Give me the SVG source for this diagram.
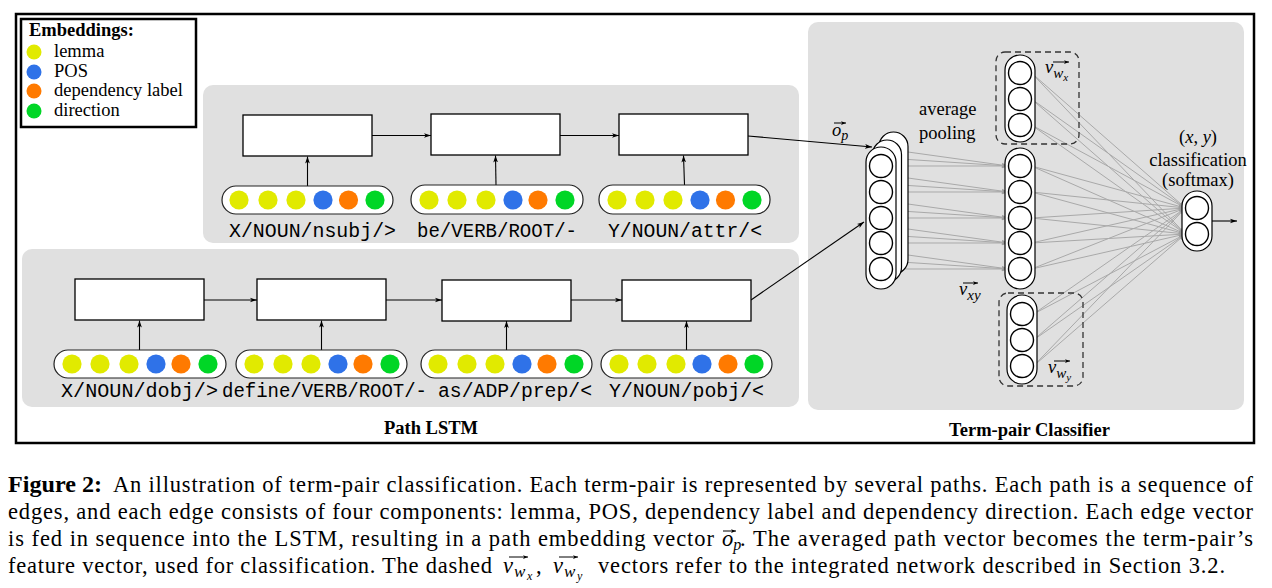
<svg xmlns="http://www.w3.org/2000/svg" width="1272" height="588" viewBox="0 0 1272 588">
<style>
.panel{fill:#e0e0e0;stroke:none}
.box{fill:#fff;stroke:#000;stroke-width:1.3}
.pill{fill:#fff;stroke:#222;stroke-width:1.2}
.vec{fill:#fff;stroke:#000;stroke-width:1.2}
.neu{fill:#fff;stroke:#000;stroke-width:1.4}
.dash{fill:none;stroke:#333;stroke-width:1.3;stroke-dasharray:6,4}
.y{fill:#e1ea00}.b{fill:#2f72e8}.o{fill:#ff7a00}.g{fill:#00d626}
.ser{font-family:"Liberation Serif","Times New Roman",serif;font-size:18.5px;fill:#000}
.bold{font-weight:bold}
.it{font-style:italic}
.mono{font-family:"Liberation Mono","Courier New",monospace;font-size:20px;fill:#000}
.cap{font-family:"Liberation Serif","Times New Roman",serif;font-size:22.5px;fill:#000}
.blk{fill:none;stroke:#000;stroke-width:1.1}
.gry{fill:none;stroke:#a9a9a9;stroke-width:1}
.acc{fill:none;stroke:#000;stroke-width:1}
</style>
<defs>
<marker id="ah" viewBox="0 0 8 6" refX="8" refY="3" markerWidth="7" markerHeight="5.5" markerUnits="userSpaceOnUse" orient="auto"><path d="M0,0.3 L8,3 L0,5.7 L2,3 z" fill="#000"/></marker>
<marker id="ahg" viewBox="0 0 8 6" refX="8" refY="3" markerWidth="7" markerHeight="5.5" markerUnits="userSpaceOnUse" orient="auto"><path d="M0,0.3 L8,3 L0,5.7 L2,3 z" fill="#9a9a9a"/></marker>
<marker id="va" viewBox="0 0 8 6" refX="8" refY="3" markerWidth="5" markerHeight="4" markerUnits="userSpaceOnUse" orient="auto"><path d="M0,0 L8,3 L0,6 L2,3 z" fill="#000"/></marker>
</defs>
<rect x="0" y="0" width="1272" height="588" fill="#fff"/>
<rect id="frame" x="16" y="14" width="1238" height="429" fill="none" stroke="#000" stroke-width="2.5"/>

<rect id="panel-top" class="panel" x="203" y="85" width="596" height="158" rx="10"/>
<rect id="panel-bottom" class="panel" x="22" y="249" width="777" height="158" rx="10"/>
<rect id="panel-classifier" class="panel" x="808" y="22" width="436" height="388" rx="10"/>

<g id="legend">
<rect x="21" y="19" width="175" height="108" fill="#fff" stroke="#000" stroke-width="2.5"/>
<text class="ser bold" x="29" y="36">Embeddings:</text>
<circle class="y" cx="34" cy="52" r="7.5"/><text class="ser" x="54" y="57">lemma</text>
<circle class="b" cx="34" cy="72" r="7.5"/><text class="ser" x="54" y="77">POS</text>
<circle class="o" cx="34" cy="91" r="7.5"/><text class="ser" x="54" y="96">dependency label</text>
<circle class="g" cx="34" cy="111" r="7.5"/><text class="ser" x="54" y="116">direction</text>
</g>

<g id="connectors">
<line class="blk" x1="307.5" y1="186" x2="307.5" y2="156.5" marker-end="url(#ah)"/>
<line class="blk" x1="496" y1="185" x2="495.5" y2="155.5" marker-end="url(#ah)"/>
<line class="blk" x1="684.5" y1="185" x2="683.5" y2="155.5" marker-end="url(#ah)"/>
<line class="blk" x1="372" y1="135.5" x2="431" y2="135.5" marker-end="url(#ah)"/>
<line class="blk" x1="560" y1="135.5" x2="619" y2="135.5" marker-end="url(#ah)"/>
<line class="blk" x1="748" y1="136" x2="872" y2="147" marker-end="url(#ah)"/>
<line class="blk" x1="139.5" y1="350" x2="139.5" y2="320.5" marker-end="url(#ah)"/>
<line class="blk" x1="321.5" y1="350" x2="321.5" y2="320.5" marker-end="url(#ah)"/>
<line class="blk" x1="506.5" y1="350" x2="506.5" y2="321" marker-end="url(#ah)"/>
<line class="blk" x1="686.5" y1="350" x2="686.5" y2="321" marker-end="url(#ah)"/>
<line class="blk" x1="204" y1="300" x2="257" y2="300" marker-end="url(#ah)"/>
<line class="blk" x1="386" y1="300" x2="442" y2="300" marker-end="url(#ah)"/>
<line class="blk" x1="571" y1="300" x2="622" y2="300" marker-end="url(#ah)"/>
<line class="blk" x1="751" y1="300" x2="864" y2="222" marker-end="url(#ah)"/>
<g marker-end="url(#ahg)">
<line class="gry" x1="892.5" y1="166" x2="1008.5" y2="166"/>
<line class="gry" x1="901" y1="159" x2="1008.5" y2="166"/>
<line class="gry" x1="908" y1="152" x2="1008.5" y2="166"/>
<line class="gry" x1="892.5" y1="192" x2="1008.5" y2="192"/>
<line class="gry" x1="901" y1="185" x2="1008.5" y2="192"/>
<line class="gry" x1="908" y1="178" x2="1008.5" y2="192"/>
<line class="gry" x1="892.5" y1="218" x2="1008.5" y2="218"/>
<line class="gry" x1="901" y1="211" x2="1008.5" y2="218"/>
<line class="gry" x1="908" y1="204" x2="1008.5" y2="218"/>
<line class="gry" x1="892.5" y1="243" x2="1008.5" y2="243"/>
<line class="gry" x1="901" y1="236" x2="1008.5" y2="243"/>
<line class="gry" x1="908" y1="229" x2="1008.5" y2="243"/>
<line class="gry" x1="892.5" y1="269" x2="1008.5" y2="269"/>
<line class="gry" x1="901" y1="262" x2="1008.5" y2="269"/>
<line class="gry" x1="908" y1="255" x2="1008.5" y2="269"/>
</g>
<g marker-end="url(#ahg)">
<line class="gry" x1="1031.5" y1="73" x2="1185.5" y2="208"/>
<line class="gry" x1="1031.5" y1="73" x2="1185.5" y2="234"/>
<line class="gry" x1="1031.5" y1="99" x2="1185.5" y2="208"/>
<line class="gry" x1="1031.5" y1="99" x2="1185.5" y2="234"/>
<line class="gry" x1="1031.5" y1="125" x2="1185.5" y2="208"/>
<line class="gry" x1="1031.5" y1="125" x2="1185.5" y2="234"/>
<line class="gry" x1="1031.5" y1="166" x2="1185.5" y2="208"/>
<line class="gry" x1="1031.5" y1="166" x2="1185.5" y2="234"/>
<line class="gry" x1="1031.5" y1="192" x2="1185.5" y2="208"/>
<line class="gry" x1="1031.5" y1="192" x2="1185.5" y2="234"/>
<line class="gry" x1="1031.5" y1="218" x2="1185.5" y2="208"/>
<line class="gry" x1="1031.5" y1="218" x2="1185.5" y2="234"/>
<line class="gry" x1="1031.5" y1="243" x2="1185.5" y2="208"/>
<line class="gry" x1="1031.5" y1="243" x2="1185.5" y2="234"/>
<line class="gry" x1="1031.5" y1="269" x2="1185.5" y2="208"/>
<line class="gry" x1="1031.5" y1="269" x2="1185.5" y2="234"/>
<line class="gry" x1="1033.5" y1="314" x2="1185.5" y2="208"/>
<line class="gry" x1="1033.5" y1="314" x2="1185.5" y2="234"/>
<line class="gry" x1="1033.5" y1="340" x2="1185.5" y2="208"/>
<line class="gry" x1="1033.5" y1="340" x2="1185.5" y2="234"/>
<line class="gry" x1="1033.5" y1="366" x2="1185.5" y2="208"/>
<line class="gry" x1="1033.5" y1="366" x2="1185.5" y2="234"/>
</g>
<line class="blk" x1="1212" y1="221" x2="1237" y2="221" marker-end="url(#ah)"/>
</g>

<g id="lstm-top-1"><rect class="box" x="243" y="115" width="129" height="41"/></g>
<g id="lstm-top-2"><rect class="box" x="431" y="114" width="129" height="41"/></g>
<g id="lstm-top-3"><rect class="box" x="619" y="114" width="129" height="41"/></g>

<g id="lstm-bot-1"><rect class="box" x="75" y="279" width="129" height="41"/></g>
<g id="lstm-bot-2"><rect class="box" x="257" y="279" width="129" height="41"/></g>
<g id="lstm-bot-3"><rect class="box" x="442" y="280" width="129" height="41"/></g>
<g id="lstm-bot-4"><rect class="box" x="622" y="280" width="129" height="41"/></g>

<g id="edge-top-1">
<rect class="pill" x="222" y="186" width="171" height="28" rx="14"/>
<circle class="y" cx="239" cy="200" r="9.6"/><circle class="y" cx="268" cy="200" r="9.6"/><circle class="y" cx="296" cy="200" r="9.6"/>
<circle class="b" cx="323" cy="200" r="9.6"/><circle class="o" cx="348.5" cy="200" r="9.6"/><circle class="g" cx="375" cy="200" r="9.6"/>
<text class="mono" x="229" y="237" textLength="167" lengthAdjust="spacingAndGlyphs">X/NOUN/nsubj/&gt;</text>
</g>
<g id="edge-top-2">
<rect class="pill" x="411" y="185" width="172" height="29" rx="14"/>
<circle class="y" cx="429" cy="200" r="9.6"/><circle class="y" cx="457" cy="200" r="9.6"/><circle class="y" cx="486" cy="200" r="9.6"/>
<circle class="b" cx="513" cy="200" r="9.6"/><circle class="o" cx="538" cy="200" r="9.6"/><circle class="g" cx="565" cy="200" r="9.6"/>
<text class="mono" x="417" y="237" textLength="160" lengthAdjust="spacingAndGlyphs">be/VERB/ROOT/-</text>
</g>
<g id="edge-top-3">
<rect class="pill" x="599" y="185" width="171" height="29" rx="14"/>
<circle class="y" cx="617" cy="200" r="9.6"/><circle class="y" cx="645" cy="200" r="9.6"/><circle class="y" cx="673" cy="200" r="9.6"/>
<circle class="b" cx="700" cy="200" r="9.6"/><circle class="o" cx="725.5" cy="200" r="9.6"/><circle class="g" cx="752" cy="200" r="9.6"/>
<text class="mono" x="608" y="237" textLength="154" lengthAdjust="spacingAndGlyphs">Y/NOUN/attr/&lt;</text>
</g>

<g id="edge-bot-1">
<rect class="pill" x="54" y="350" width="172" height="28" rx="14"/>
<circle class="y" cx="72" cy="364" r="9.6"/><circle class="y" cx="100" cy="364" r="9.6"/><circle class="y" cx="129" cy="364" r="9.6"/>
<circle class="b" cx="156" cy="364" r="9.6"/><circle class="o" cx="181" cy="364" r="9.6"/><circle class="g" cx="208" cy="364" r="9.6"/>
<text class="mono" x="61" y="397" textLength="157" lengthAdjust="spacingAndGlyphs">X/NOUN/dobj/&gt;</text>
</g>
<g id="edge-bot-2">
<rect class="pill" x="236" y="350" width="171" height="28" rx="14"/>
<circle class="y" cx="254" cy="364" r="9.6"/><circle class="y" cx="283" cy="364" r="9.6"/><circle class="y" cx="311" cy="364" r="9.6"/>
<circle class="b" cx="338" cy="364" r="9.6"/><circle class="o" cx="363" cy="364" r="9.6"/><circle class="g" cx="390" cy="364" r="9.6"/>
<text class="mono" x="222" y="397" textLength="205" lengthAdjust="spacingAndGlyphs">define/VERB/ROOT/-</text>
</g>
<g id="edge-bot-3">
<rect class="pill" x="421" y="350" width="171" height="28" rx="14"/>
<circle class="y" cx="438" cy="364" r="9.6"/><circle class="y" cx="467" cy="364" r="9.6"/><circle class="y" cx="495" cy="364" r="9.6"/>
<circle class="b" cx="522" cy="364" r="9.6"/><circle class="o" cx="547" cy="364" r="9.6"/><circle class="g" cx="574" cy="364" r="9.6"/>
<text class="mono" x="438" y="397" textLength="154" lengthAdjust="spacingAndGlyphs">as/ADP/prep/&lt;</text>
</g>
<g id="edge-bot-4">
<rect class="pill" x="601" y="350" width="171" height="28" rx="14"/>
<circle class="y" cx="619" cy="364" r="9.6"/><circle class="y" cx="647" cy="364" r="9.6"/><circle class="y" cx="676" cy="364" r="9.6"/>
<circle class="b" cx="702" cy="364" r="9.6"/><circle class="o" cx="728" cy="364" r="9.6"/><circle class="g" cx="754" cy="364" r="9.6"/>
<text class="mono" x="609" y="397" textLength="155" lengthAdjust="spacingAndGlyphs">Y/NOUN/pobj/&lt;</text>
</g>

<text id="title-lstm" class="ser bold" x="431" y="434" text-anchor="middle">Path LSTM</text>
<text id="title-classifier" class="ser bold" x="1029.5" y="436" text-anchor="middle">Term-pair Classifier</text>

<g id="path-vectors">
<rect class="vec" x="879" y="132" width="29" height="142" rx="14.5"/>
<rect class="vec" x="872.5" y="140" width="29" height="142" rx="14.5"/>
<rect class="vec" x="866" y="147" width="30" height="142" rx="15"/>
<circle class="neu" cx="881" cy="166" r="11.5"/>
<circle class="neu" cx="881" cy="192" r="11.5"/>
<circle class="neu" cx="881" cy="218" r="11.5"/>
<circle class="neu" cx="881" cy="243" r="11.5"/>
<circle class="neu" cx="881" cy="269" r="11.5"/>
<text class="ser it" x="832" y="136" font-size="20">o<tspan font-size="14" dy="4">p</tspan></text>
<line class="acc" x1="834" y1="123" x2="846" y2="123" marker-end="url(#va)"/>
</g>

<text id="avg-pool" class="ser" x="919" y="115"><tspan>average</tspan><tspan x="919" y="139">pooling</tspan></text>

<g id="v-wx">
<rect class="dash" x="996" y="52" width="83" height="92" rx="9"/>
<rect class="vec" x="1005" y="55" width="30" height="87" rx="15"/>
<circle class="neu" cx="1020" cy="73" r="11.5"/>
<circle class="neu" cx="1020" cy="99" r="11.5"/>
<circle class="neu" cx="1020" cy="125" r="11.5"/>
<text class="ser it" x="1045" y="73" font-size="20">v<tspan font-size="15" dy="5">w</tspan><tspan font-size="11" dy="3">x</tspan></text>
<line class="acc" x1="1053" y1="62" x2="1069" y2="62" marker-end="url(#va)"/>
</g>

<g id="v-xy">
<rect class="vec" x="1005" y="148" width="30" height="141" rx="15"/>
<circle class="neu" cx="1020" cy="166" r="11.5"/>
<circle class="neu" cx="1020" cy="192" r="11.5"/>
<circle class="neu" cx="1020" cy="218" r="11.5"/>
<circle class="neu" cx="1020" cy="243" r="11.5"/>
<circle class="neu" cx="1020" cy="269" r="11.5"/>
<text class="ser it" x="959" y="295" font-size="20">v<tspan font-size="15" dy="5">xy</tspan></text>
<line class="acc" x1="963" y1="283" x2="978" y2="283" marker-end="url(#va)"/>
</g>

<g id="v-wy">
<rect class="dash" x="999" y="293" width="84" height="93" rx="9"/>
<rect class="vec" x="1007" y="295" width="30" height="89" rx="15"/>
<circle class="neu" cx="1022" cy="314" r="11.5"/>
<circle class="neu" cx="1022" cy="340" r="11.5"/>
<circle class="neu" cx="1022" cy="366" r="11.5"/>
<text class="ser it" x="1048" y="373" font-size="20">v<tspan font-size="15" dy="5">w</tspan><tspan font-size="11" dy="3">y</tspan></text>
<line class="acc" x1="1054" y1="361" x2="1070" y2="361" marker-end="url(#va)"/>
</g>

<g id="output">
<rect class="vec" x="1182" y="191" width="30" height="60" rx="15"/>
<circle class="neu" cx="1197" cy="208" r="11.5"/>
<circle class="neu" cx="1197" cy="234" r="11.5"/>
<text class="ser" x="1198" y="143" text-anchor="middle" font-size="20">(<tspan font-style="italic">x</tspan>, <tspan font-style="italic">y</tspan>)</text>
<text class="ser" x="1198" y="166" text-anchor="middle">classification</text>
<text class="ser" x="1198" y="186" text-anchor="middle">(softmax)</text>
</g>

<g id="caption">
<text class="cap bold" x="8" y="492" textLength="94" lengthAdjust="spacingAndGlyphs">Figure 2:</text>
<text class="cap" x="113" y="492" textLength="1140" lengthAdjust="spacing">An illustration of term-pair classification. Each term-pair is represented by several paths. Each path is a sequence of</text>
<text class="cap" x="8" y="519" textLength="1245" lengthAdjust="spacing">edges, and each edge consists of four components: lemma, POS, dependency label and dependency direction. Each edge vector</text>
<text class="cap" x="8" y="546" textLength="706" lengthAdjust="spacing">is fed in sequence into the LSTM, resulting in a path embedding vector</text>
<text class="cap it" x="722" y="546">o<tspan font-size="16" dy="4">p</tspan></text>
<line class="acc" x1="723" y1="531" x2="736" y2="531" marker-end="url(#va)"/>
<text class="cap" x="740" y="546" textLength="513" lengthAdjust="spacing">. The averaged path vector becomes the term-pair’s</text>
<text class="cap" x="8" y="573" textLength="484" lengthAdjust="spacing">feature vector, used for classification. The dashed</text>
<text class="cap it" x="503" y="573">v<tspan x="514" font-size="17" dy="4">w</tspan><tspan x="527" font-size="12" dy="3">x</tspan><tspan x="536" font-style="normal" font-size="22.5" dy="-7">,</tspan><tspan x="553">v</tspan><tspan x="564" font-size="17" dy="4">w</tspan><tspan x="577" font-size="12" dy="3">y</tspan></text>
<line class="acc" x1="509" y1="557" x2="528" y2="557" marker-end="url(#va)"/>
<line class="acc" x1="559" y1="557" x2="578" y2="557" marker-end="url(#va)"/>
<text class="cap" x="598" y="573" textLength="627" lengthAdjust="spacing">vectors refer to the integrated network described in Section 3.2.</text>
</g>
</svg>
